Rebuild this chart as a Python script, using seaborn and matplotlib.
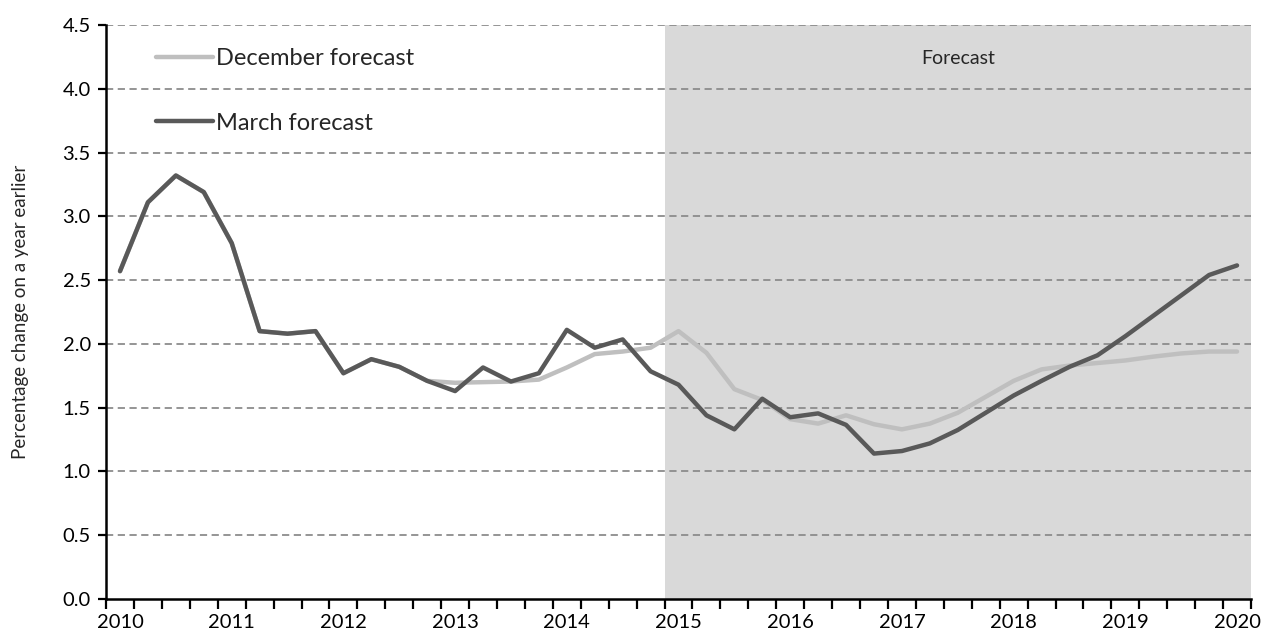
import numpy as np
import pandas as pd
import matplotlib
matplotlib.use("Agg")
import matplotlib.pyplot as plt
import seaborn as sns

years = list(range(2010, 2021))
quarters = [f"{y} Q{q}" for y in range(2010, 2020) for q in range(1, 5)] + ["2020 Q1"]

march = [2.57, 3.11, 3.32, 3.19, 2.79, 2.10, 2.08, 2.10, 1.77, 1.88,
         1.82, 1.71, 1.63, 1.815, 1.705, 1.77, 2.11, 1.97, 2.035, 1.785,
         1.68, 1.44, 1.33, 1.57, 1.425, 1.455, 1.365, 1.14, 1.16, 1.22,
         1.325, 1.46, 1.595, 1.71, 1.82, 1.91, 2.06, 2.22, 2.38, 2.54, 2.615]

december = [2.57, 3.11, 3.32, 3.19, 2.79, 2.10, 2.08, 2.10, 1.77, 1.88,
            1.82, 1.71, 1.695, 1.70, 1.705, 1.72, 1.815, 1.92, 1.94, 1.97,
            2.10, 1.93, 1.645, 1.56, 1.41, 1.375, 1.44, 1.37, 1.33, 1.375,
            1.46, 1.585, 1.71, 1.80, 1.83, 1.85, 1.87, 1.90, 1.925, 1.94, 1.94]

series_names = ["December forecast", "March forecast"]
forecast_start = "2015 Q1"

df = pd.DataFrame({
    "idx": list(range(len(quarters))) * 2,
    "quarter": quarters * 2,
    "value": december + march,
    "series": [series_names[0]] * len(quarters) + [series_names[1]] * len(quarters),
})

sns.set_style("white")
plt.rcParams['font.family'] = ['Lato', 'DejaVu Sans']
plt.rcParams.update({
    "xtick.bottom": True, "ytick.left": True,
    "xtick.direction": "out", "ytick.direction": "out",
    "xtick.color": "black", "ytick.color": "black",
    "xtick.labelcolor": "black", "ytick.labelcolor": "black",
    "xtick.major.size": 0, "xtick.minor.size": 7,
    "xtick.minor.width": 1.6, "ytick.major.size": 6, "ytick.major.width": 1.6,
})

fig = plt.figure(figsize=(12.64, 6.34), dpi=100)
ax = fig.add_axes([0.0839, 0.0552, 0.9058, 0.9054])

n = len(quarters)
fs = quarters.index(forecast_start)
ax.axvspan(fs - 0.5, n - 0.5, color="#D9D9D9", zorder=0, lw=0)

for yv in np.arange(0.5, 4.51, 0.5):
    ax.axhline(yv, color="#8C8C8C", lw=1.3, ls=(0, (4, 2.5)), zorder=1)

sns.lineplot(data=df, x="idx", y="value", hue="series",
             palette={series_names[0]: "#BFBFBF", series_names[1]: "#595959"},
             lw=3.2, ax=ax, zorder=3, legend=True)

ax.set_xlim(-0.5, n - 0.5)
ax.set_ylim(0, 4.5)
ax.set_yticks(np.arange(0, 4.51, 0.5))
ax.set_yticklabels([f"{v:.1f}" for v in np.arange(0, 4.51, 0.5)], fontsize=14.5)
ax.set_xticks([quarters.index(f"{y} Q1") for y in years])
ax.set_xticklabels([str(y) for y in years], fontsize=14.5)
ax.set_xticks(np.arange(-0.5, n, 1), minor=True)
ax.tick_params(axis="x", which="major", bottom=True, length=0, pad=11)
ax.tick_params(axis="x", which="minor", bottom=True, length=7, width=1.6, color="black", direction="out")
ax.tick_params(axis="y", which="major", left=True, length=6, width=1.6, color="black", direction="out", pad=5)
ax.set_xlabel("")
ax.set_ylabel("Percentage change on a year earlier", fontsize=13.5, labelpad=24)

for s in ["top", "right"]:
    ax.spines[s].set_visible(False)
for s in ["left", "bottom"]:
    ax.spines[s].set_color("black")
    ax.spines[s].set_linewidth(1.8)
    ax.spines[s].set_zorder(4)

ax.text((fs - 0.5 + n - 0.5) / 2, 4.24, "Forecast", ha="center", va="center", fontsize=14)

leg = ax.legend(loc="upper left", bbox_to_anchor=(0.025, 0.997), frameon=False,
                fontsize=17, handlelength=2.4, handletextpad=0.15, labelspacing=1.85)
for line in leg.get_lines():
    line.set_linewidth(3.2)

fig.savefig("out.png", dpi=100)
